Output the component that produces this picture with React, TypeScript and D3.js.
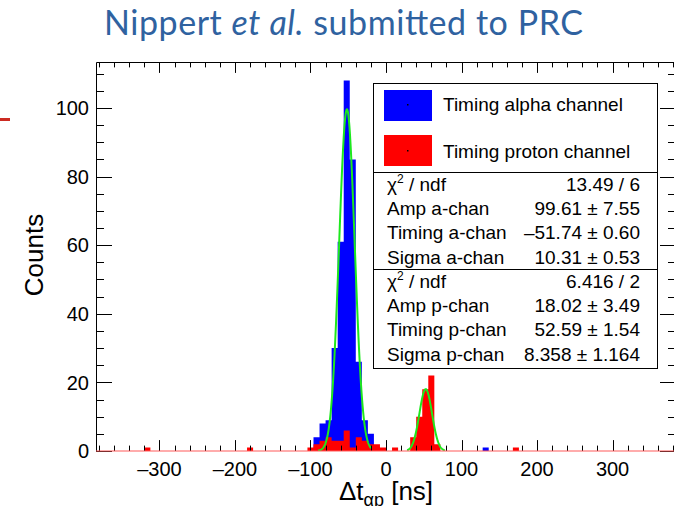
import React from "react";
import * as d3 from "d3";

const W = 674;
const H = 506;

// Histogram binning (ns)
const binWidth = 8;
const xDomain = [-384, 384];
const yDomain = [0, 113.4];

// Alpha-channel timing histogram: lower bin edge and counts (non-empty bins)
const alphaBinLow = [-96, -88, -80, -72, -64, -56, -48, -40, -32, -24, 128];
const alphaCounts = [4, 8, 9, 30, 61, 108, 85, 26, 9, 5, 1];

// Proton-channel timing histogram: lower bin edge and counts (non-empty bins)
const protonBinLow = [-320, -184, -104, -96, -88, -80, -72, -64, -56, -48, -40, -32, -24, -16, -8, 8, 32, 40, 48, 56, 64, 168];
const protonCounts = [1, 1, 1, 2, 3, 4, 3, 3, 6, 1, 4, 3, 2, 2, 1, 1, 4, 10, 18, 22, 2, 1];

// Gaussian fits: [amplitude, mean, sigma] and fit ranges
const alphaFitParams = [99.61, -51.74, 10.31];
const alphaFitRange = [-90, -20];
const protonFitParams = [18.02, 52.59, 8.358];
const protonFitRange = [28, 78];

// Axis ticks
const xMajorTicks = [-300, -200, -100, 0, 100, 200, 300];
const xMinorStep = 20;
const yMajorTicks = [0, 20, 40, 60, 80, 100];
const yMinorStep = 5;

// Legend and fit statistics
const legendLabels = ["Timing alpha channel", "Timing proton channel"];
const alphaStatNames = ["χ2 / ndf", "Amp a-chan", "Timing a-chan", "Sigma a-chan"];
const alphaStatValues = ["13.49 / 6", "99.61 ± 7.55", "–51.74 ± 0.60", "10.31 ± 0.53"];
const protonStatNames = ["χ2 / ndf", "Amp p-chan", "Timing p-chan", "Sigma p-chan"];
const protonStatValues = ["6.416 / 2", "18.02 ± 3.49", "52.59 ± 1.54", "8.358 ± 1.164"];

const FONT = "'Liberation Sans', Arial, Helvetica, sans-serif";

const frame = { left: 96, right: 676, top: 62, bottom: 451 };

const x = d3.scaleLinear().domain(xDomain).range([frame.left, frame.right]);
const y = d3.scaleLinear().domain(yDomain).range([frame.bottom, frame.top]);

function histPath(lows: number[], counts: number[]): string {
  return lows
    .map((lo, i) => {
      const x0 = x(lo);
      const x1 = x(lo + binWidth);
      const y0 = y(0);
      const y1 = y(counts[i]);
      return `M${x0},${y0}H${x1}V${y1}H${x0}Z`;
    })
    .join("");
}

function gausPath(params: number[], range: number[]): string {
  const [amp, mean, sigma] = params;
  const n = 200;
  const pts = d3.range(n + 1).map((i) => {
    const t = range[0] + ((range[1] - range[0]) * i) / n;
    return [t, amp * Math.exp(-0.5 * ((t - mean) / sigma) ** 2)] as [number, number];
  });
  return d3.line<[number, number]>().x((d) => x(d[0])).y((d) => y(d[1]))(pts) || "";
}

function minorTicks(domain: number[], step: number): number[] {
  const start = Math.ceil(domain[0] / step) * step;
  return d3.range(start, domain[1] + 1e-9, step);
}

function StatName({ text, xPos, yPos }: { text: string; xPos: number; yPos: number }) {
  if (text.startsWith("χ2")) {
    return (
      <text x={xPos} y={yPos} fontSize={19} fontFamily={FONT} fill="#000">
        χ<tspan fontSize={12} dy={-8}>2</tspan>
        <tspan dy={8}>{text.slice(2)}</tspan>
      </text>
    );
  }
  return (
    <text x={xPos} y={yPos} fontSize={19} fontFamily={FONT} fill="#000">
      {text}
    </text>
  );
}

function StatsBlock({ names, values, top }: { names: string[]; values: string[]; top: number }) {
  return (
    <g>
      {names.map((n, i) => {
        const base = top + 19 + i * 24.2;
        return (
          <g key={n + i}>
            <StatName text={n} xPos={387} yPos={base} />
            <text x={640} y={base} fontSize={19} fontFamily={FONT} textAnchor="end" fill="#000">
              {values[i]}
            </text>
          </g>
        );
      })}
    </g>
  );
}

export default function App() {
  const xMinor = minorTicks(xDomain, xMinorStep);
  const yMinor = minorTicks(yDomain, yMinorStep);
  const xMajLen = 10.7;
  const xMinLen = 5.4;
  const yMajLen = 16;
  const yMinLen = 8;

  return (
    <svg
      width={W}
      height={H}
      viewBox={`0 0 ${W} ${H}`}
      style={{ position: "absolute", left: 0, top: 0, background: "#fff" }}
    >
      <rect x={0} y={0} width={W} height={H} fill="#fff" />

      {/* slide title */}
      <text
        x={104}
        y={35}
        fontSize={34}
        fontFamily="Lato, 'Open Sans', sans-serif"
        fill="#2f62a0"
        textLength={479}
        lengthAdjust="spacing"
      >
        Nippert <tspan fontStyle="italic">et al.</tspan> submitted to PRC
      </text>
      <rect x={0} y={118} width={10} height={3} fill="#cc2b22" />

      <defs>
        <clipPath id="frameClip">
          <rect x={frame.left} y={frame.top} width={frame.right - frame.left} height={frame.bottom - frame.top} />
        </clipPath>
      </defs>

      {/* histograms and fits */}
      <g clipPath="url(#frameClip)">
        <path d={histPath(alphaBinLow, alphaCounts)} fill="#0000ff" />
        <path d={histPath(protonBinLow, protonCounts)} fill="#ff0000" />
        <path d={gausPath(alphaFitParams, alphaFitRange)} fill="none" stroke="#1ee81e" strokeWidth={2} />
        <path d={gausPath(protonFitParams, protonFitRange)} fill="none" stroke="#1ee81e" strokeWidth={2} />
      </g>

      {/* frame */}
      <path
        d={`M${frame.left + 0.5},${frame.bottom}V${frame.top + 0.5}H${frame.right}`}
        fill="none"
        stroke="#000"
        strokeWidth={1}
      />

      {/* x ticks (bottom and top), y ticks (left and right) */}
      <g stroke="#000" strokeWidth={1}>
        {xMinor.map((v) => {
          const major = xMajorTicks.includes(v);
          const len = major ? xMajLen : xMinLen;
          const px = Math.round(x(v)) + 0.5;
          return (
            <g key={"xt" + v}>
              <line x1={px} x2={px} y1={frame.bottom} y2={frame.bottom - len} />
              <line x1={px} x2={px} y1={frame.top} y2={frame.top + len} />
            </g>
          );
        })}
        {xMajorTicks.map((v) => {
          const px = Math.round(x(v)) + 0.5;
          return (
            <g key={"xM" + v}>
              <line x1={px} x2={px} y1={frame.bottom} y2={frame.bottom - xMajLen} />
              <line x1={px} x2={px} y1={frame.top} y2={frame.top + xMajLen} />
            </g>
          );
        })}
        {yMinor.map((v) => {
          const major = yMajorTicks.includes(v);
          const len = major ? yMajLen : yMinLen;
          const py = Math.round(y(v)) + 0.5;
          return (
            <g key={"yt" + v}>
              <line x1={frame.left} x2={frame.left + len} y1={py} y2={py} />
              <line x1={frame.right} x2={frame.right - len} y1={py} y2={py} />
            </g>
          );
        })}
      </g>

      {/* zero line of the proton histogram */}
      <line x1={frame.left} x2={frame.right} y1={frame.bottom} y2={frame.bottom} stroke="#ff5a5a" strokeWidth={1.2} />

      {/* tick labels */}
      <g fontFamily={FONT} fontSize={20} fill="#000">
        {xMajorTicks.map((v) => (
          <text key={"xl" + v} x={x(v)} y={476} textAnchor="middle">
            {v < 0 ? `–${Math.abs(v)}` : `${v}`}
          </text>
        ))}
        {yMajorTicks.map((v) => (
          <text key={"yl" + v} x={89} y={y(v)} dy="0.36em" textAnchor="end">
            {v}
          </text>
        ))}
      </g>

      {/* axis titles */}
      <text
        transform={`translate(43,255) rotate(-90)`}
        textAnchor="middle"
        fontFamily={FONT}
        fontSize={26}
        fill="#000"
      >
        Counts
      </text>
      <text x={386} y={500} textAnchor="middle" fontFamily={FONT} fontSize={26} fill="#000">
        Δt<tspan fontSize={18} dy={6}>αp</tspan>
        <tspan dy={-6}> [ns]</tspan>
      </text>

      {/* legend */}
      <rect x={373.5} y={83.5} width={284} height={89} fill="#fff" stroke="#000" strokeWidth={1} />
      <rect x={384} y={90} width={48} height={31} fill="#0000ff" />
      <rect x={384} y={135} width={48} height={31} fill="#ff0000" />
      <rect x={407} y={104} width={1.5} height={1.5} fill="#000" />
      <rect x={407} y={150} width={1.5} height={1.5} fill="#000" />
      <text x={443} y={104} dy="0.36em" fontFamily={FONT} fontSize={19} fill="#000">
        {legendLabels[0]}
      </text>
      <text x={443} y={151} dy="0.36em" fontFamily={FONT} fontSize={19} fill="#000">
        {legendLabels[1]}
      </text>

      {/* fit statistics */}
      <rect x={373.5} y={172.5} width={284} height={97} fill="#fff" stroke="#000" strokeWidth={1} />
      <rect x={373.5} y={269.5} width={284} height={99} fill="#fff" stroke="#000" strokeWidth={1} />
      <StatsBlock names={alphaStatNames} values={alphaStatValues} top={172} />
      <StatsBlock names={protonStatNames} values={protonStatValues} top={269} />
    </svg>
  );
}
